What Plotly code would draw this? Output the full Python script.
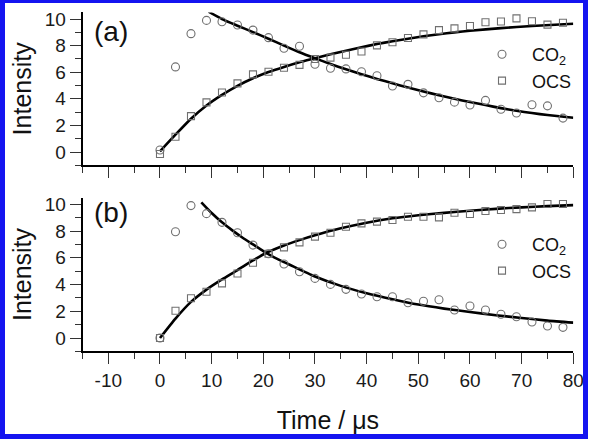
import plotly.graph_objects as go

# ---------------- data ----------------
t = [0, 3, 6, 9, 12, 15, 18, 21, 24, 27, 30, 33, 36, 39, 42, 45, 48, 51, 54,
     57, 60, 63, 66, 69, 72, 75, 78]

top_co2 = [0.15, 6.4, 8.9, 9.9, 9.8, 9.55, 9.17, 8.6, 7.8, 7.95, 6.6, 6.3, 6.25,
           6.04, 5.74, 4.96, 5.09, 4.45, 4.08, 3.75, 3.53, 3.88, 3.22, 2.93,
           3.55, 3.47, 2.55]
top_ocs = [-0.15, 1.15, 2.7, 3.73, 4.48, 5.16, 5.84, 6.04, 6.34, 6.55, 7.0, 7.1,
           7.32, 7.56, 8.02, 8.25, 8.58, 8.85, 9.17, 9.3, 9.48, 9.76, 9.82,
           10.05, 9.83, 9.58, 9.72]

bot_co2 = [0.0, 7.95, 9.9, 9.3, 8.65, 7.87, 6.95, 6.3, 5.53, 4.96, 4.46, 4.01,
           3.64, 3.29, 3.09, 3.09, 2.64, 2.75, 2.86, 2.1, 2.39, 2.09, 1.78,
           1.59, 1.2, 0.9, 0.8]
bot_ocs = [0.0, 2.04, 2.97, 3.46, 4.09, 4.83, 5.63, 6.3, 6.78, 7.15, 7.58, 7.87,
           8.32, 8.57, 8.7, 8.82, 9.07, 9.07, 9.02, 9.37, 9.27, 9.5, 9.57, 9.64,
           9.77, 10.02, 10.02]

# fitted curves
top_co2_fit_t = [9.4, 12, 15, 18, 21, 24, 27, 30, 33, 36, 39, 42, 45, 48, 51,
                 54, 57, 60, 63, 66, 69, 72, 75, 80]
top_co2_fit_y = [10.55, 10.0, 9.5, 9.02, 8.52, 8.0, 7.5, 7.05, 6.62, 6.22, 5.85,
                 5.5, 5.17, 4.85, 4.55, 4.27, 4.0, 3.76, 3.53, 3.3, 3.1, 2.93,
                 2.78, 2.58]
top_ocs_fit_t = [0, 3, 6, 9, 12, 15, 18, 21, 24, 27, 30, 33, 36, 39, 42, 45, 48,
                 51, 54, 57, 60, 66, 72, 80]
top_ocs_fit_y = [0.05, 1.3, 2.5, 3.5, 4.3, 4.98, 5.55, 6.02, 6.4, 6.75, 7.05,
                 7.35, 7.62, 7.88, 8.12, 8.33, 8.52, 8.7, 8.86, 9.0, 9.12, 9.32,
                 9.48, 9.65]

bot_co2_fit_t = [8, 10, 12, 14, 16, 18, 20, 22, 25, 30, 35, 40, 45, 50, 55, 60,
                 65, 70, 75, 80]
bot_co2_fit_y = [10.15, 9.35, 8.65, 8.05, 7.5, 7.0, 6.5, 6.05, 5.5, 4.6, 3.9,
                 3.35, 2.9, 2.5, 2.2, 1.95, 1.7, 1.5, 1.3, 1.15]
bot_ocs_fit_t = [0, 3, 6, 9, 12, 15, 18, 21, 24, 27, 30, 35, 40, 45, 50, 55, 60,
                 65, 70, 75, 80]
bot_ocs_fit_y = [0, 1.45, 2.7, 3.62, 4.38, 5.08, 5.8, 6.45, 6.92, 7.32, 7.68,
                 8.2, 8.62, 8.95, 9.18, 9.36, 9.52, 9.66, 9.77, 9.86, 9.94]

series_names = ["CO<sub>2</sub>", "OCS"]
panel_labels = ["(a)", "(b)"]
x_ticks = [-10, 0, 10, 20, 30, 40, 50, 60, 70, 80]
x_ticktext = ["-10", "0", "10", "20", "30", "40", "50", "60", "70", "80"]
y_ticks = [0, 2, 4, 6, 8, 10]
y_ticktext = ["0", "2", "4", "6", "8", "10"]

# ---------------- styling ----------------
W, H = 593, 445
FONT = "Liberation Sans, Arial, Helvetica, sans-serif"
MARK = "#707070"
BLUE = "#1414f0"


def px_x(p):
    return p / W


def px_y(p):
    return (H - p) / H


fig = go.Figure()

panels = [
    ("x", "y", "legend", top_co2, top_ocs,
     (top_co2_fit_t, top_co2_fit_y), (top_ocs_fit_t, top_ocs_fit_y)),
    ("x2", "y2", "legend2", bot_co2, bot_ocs,
     (bot_co2_fit_t, bot_co2_fit_y), (bot_ocs_fit_t, bot_ocs_fit_y)),
]

for xa, ya, lg, co2, ocs, fco2, focs in panels:
    for fx, fy in (fco2, focs):
        fig.add_trace(go.Scatter(x=fx, y=fy, mode="lines", xaxis=xa, yaxis=ya,
                                 line=dict(color="black", width=2.6,
                                           shape="spline", smoothing=0.6),
                                 showlegend=False, hoverinfo="skip"))
    fig.add_trace(go.Scatter(x=t, y=co2, mode="markers", xaxis=xa, yaxis=ya,
                             name=series_names[0], legend=lg,
                             marker=dict(symbol="circle-open", size=8, color=MARK,
                                         line=dict(width=1.1, color=MARK))))
    fig.add_trace(go.Scatter(x=t, y=ocs, mode="markers", xaxis=xa, yaxis=ya,
                             name=series_names[1], legend=lg,
                             marker=dict(symbol="square-open", size=7, color=MARK,
                                         line=dict(width=1.1, color=MARK))))

x_dom = [px_x(82.5), px_x(573.3)]
top_dom = [px_y(165.3), px_y(12.4)]
bot_dom = [px_y(351.4), px_y(197.6)]

xcommon = dict(range=[-15, 80], tickmode="array", tickvals=x_ticks,
               ticktext=x_ticktext, automargin=False,
               ticks="outside", ticklen=11, tickwidth=1.4, tickcolor="#333",
               showline=True, linecolor="black", linewidth=1.5,
               showgrid=False, zeroline=False,
               minor=dict(dtick=5, tick0=0, ticks="outside", ticklen=6,
                          tickwidth=1.4, tickcolor="#333", showgrid=False),
               tickfont=dict(family=FONT, size=19, color="#1a1a1a"))
ycommon = dict(range=[-1, 10.5], tickmode="array", tickvals=y_ticks,
               ticktext=y_ticktext, automargin=False,
               ticks="outside", ticklen=11, tickwidth=1.4, tickcolor="#333",
               showline=True, linecolor="black", linewidth=1.5,
               showgrid=False, zeroline=False,
               minor=dict(dtick=1, tick0=0, ticks="outside", ticklen=6,
                          tickwidth=1.4, tickcolor="#333", showgrid=False),
               tickfont=dict(family=FONT, size=19, color="#1a1a1a"),
               title=dict(text="Intensity", standoff=6,
                          font=dict(family=FONT, size=25, color="#111")))

fig.update_layout(
    width=W, height=H,
    margin=dict(l=0, r=0, t=0, b=0, autoexpand=False),
    paper_bgcolor="white", plot_bgcolor="white",
    font=dict(family=FONT, color="#111"),
    xaxis=dict(domain=x_dom, anchor="y", showticklabels=False, **xcommon),
    xaxis2=dict(domain=x_dom, anchor="y2",
                title=dict(text="Time / μs", standoff=22,
                           font=dict(family=FONT, size=25, color="#111")),
                **xcommon),
    yaxis=dict(domain=top_dom, anchor="x", **ycommon),
    yaxis2=dict(domain=bot_dom, anchor="x2", **ycommon),
    legend=dict(x=px_x(472), y=px_y(36), xanchor="left", yanchor="top",
                bgcolor="rgba(0,0,0,0)", itemwidth=50, tracegroupgap=0,
                font=dict(family=FONT, size=18, color="#111")),
    legend2=dict(x=px_x(472), y=px_y(226), xanchor="left", yanchor="top",
                 bgcolor="rgba(0,0,0,0)", itemwidth=50, tracegroupgap=0,
                 font=dict(family=FONT, size=18, color="#111")),
    showlegend=True,
)

for lab, ypix in zip(panel_labels, [31, 212]):
    fig.add_annotation(text=lab, xref="paper", yref="paper", x=px_x(92),
                       y=px_y(ypix), xanchor="left", yanchor="middle",
                       showarrow=False,
                       font=dict(family=FONT, size=28, color="#111"))

fig.add_shape(type="rect", xref="paper", yref="paper",
              x0=px_x(2.5), x1=px_x(585.5), y0=px_y(436.5), y1=px_y(0.5),
              line=dict(color=BLUE, width=5), fillcolor="rgba(0,0,0,0)",
              layer="above")

fig.write_html("out.html")
